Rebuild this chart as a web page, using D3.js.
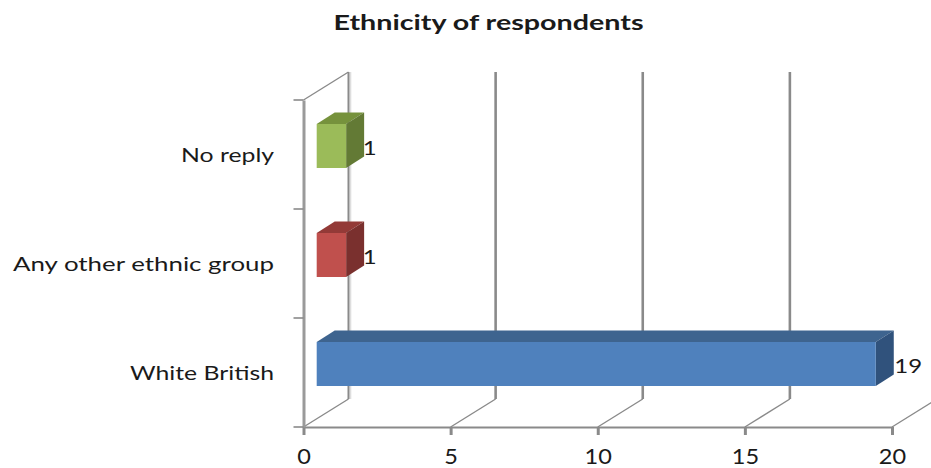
<!DOCTYPE html>
<html>
<head>
<meta charset="utf-8">
<script src="https://cdn.jsdelivr.net/npm/d3@7"></script>
<style>
html,body{margin:0;padding:0;background:#fff}
svg{display:block}
text{font-family:Lato,"DejaVu Sans",sans-serif;fill:#1a1a1a}
</style>
</head>
<body>
<svg id="chart" width="931" height="468"></svg>
<script>
const title = "Ethnicity of respondents";
const categories = ["White British", "Any other ethnic group", "No reply"];
const values = [19, 1, 1];
const xTicks = [0, 5, 10, 15, 20];
const frontColors = ["#4f81bd", "#c0504d", "#9bbb59"];
const topColors = ["#3e648f", "#933a37", "#76923c"];
const sideColors = ["#30527c", "#7a302e", "#637a35"];

const gridColor = "#8a8a8a";
const axisColor = "#9a9a9a";
const plot = {left: 303.5, right: 892, top: 100, bottom: 427};
const wall = {dx: 45, dy: -28};          // floor depth of the 3D box
const bar = {inset: 13.2, lift: 8.5, height: 44, dx: 18, dy: -11.5};
const categoryLabelWidths = [144, 261, 93];

const svg = d3.select("#chart");
const x = d3.scaleLinear().domain([0, 20]).range([plot.left, plot.right]);
const y = d3.scaleBand().domain(categories).range([plot.bottom, plot.top]);

// widen a text selection horizontally by a constant factor
const stretch = (sel, k) => sel.each(function () {
  this.setAttribute("textLength", this.getComputedTextLength() * k);
  this.setAttribute("lengthAdjust", "spacingAndGlyphs");
});

// back wall gridlines and the floor diagonals leading up to them
const grid = svg.append("g").attr("fill", "none").attr("stroke", gridColor);
grid.append("line")
  .attr("x1", x(0) + wall.dx + 2).attr("x2", x(0) + wall.dx + 2)
  .attr("y1", plot.top + wall.dy).attr("y2", plot.bottom + wall.dy)
  .attr("stroke", "#dedede").attr("stroke-width", 1.6);
grid.selectAll("line.wall").data(xTicks.slice(0, -1)).join("line")
  .attr("class", "wall")
  .attr("x1", d => x(d) + wall.dx).attr("x2", d => x(d) + wall.dx)
  .attr("y1", plot.top + wall.dy).attr("y2", plot.bottom + wall.dy)
  .attr("stroke-width", (d, i) => i === 0 ? 2 : 2.6);
grid.selectAll("line.floor").data(xTicks).join("line")
  .attr("class", "floor")
  .attr("x1", d => x(d)).attr("y1", plot.bottom)
  .attr("x2", d => x(d) + wall.dx).attr("y2", plot.bottom + wall.dy)
  .attr("stroke-width", 1.4);
grid.append("line")
  .attr("x1", plot.left).attr("y1", plot.top)
  .attr("x2", plot.left + wall.dx).attr("y2", plot.top + wall.dy)
  .attr("stroke-width", 1.4);

// cuboid bars: top and side faces sit behind the front face
const bars = svg.append("g").selectAll("g").data(categories).join("g");
const x0 = plot.left + bar.inset;
const len = i => x(values[i]) - x(0);
const frontTop = c => y(c) + y.bandwidth() / 2 - bar.lift - bar.height / 2;

bars.append("path")
  .attr("fill", (c, i) => topColors[i])
  .attr("d", (c, i) => {
    const t = frontTop(c), r = x0 + len(i);
    return d3.line()([[x0, t], [x0 + bar.dx, t + bar.dy], [r + bar.dx, t + bar.dy], [r, t]]) + "Z";
  });
bars.append("path")
  .attr("fill", (c, i) => sideColors[i])
  .attr("d", (c, i) => {
    const t = frontTop(c), r = x0 + len(i);
    return d3.line()([[r, t], [r + bar.dx, t + bar.dy], [r + bar.dx, t + bar.dy + bar.height], [r, t + bar.height]]) + "Z";
  });
bars.append("rect")
  .attr("fill", (c, i) => frontColors[i])
  .attr("x", x0).attr("y", c => frontTop(c))
  .attr("width", (c, i) => len(i)).attr("height", bar.height);

// value labels beside each bar's side face
bars.append("text")
  .attr("x", (c, i) => x0 + len(i) + bar.dx - (values[i] < 10 ? 1.5 : -0.5))
  .attr("y", c => frontTop(c) + 31)
  .attr("font-size", 20)
  .text((c, i) => values[i])
  .call(stretch, 1.2);

// axes
const xAxis = svg.append("g")
  .attr("transform", `translate(0,${plot.bottom})`)
  .call(d3.axisBottom(x).tickValues(xTicks).tickSize(8));
const yAxis = svg.append("g")
  .attr("transform", `translate(${plot.left},0)`)
  .call(d3.axisLeft(y).tickSize(0));

svg.append("g").attr("stroke", gridColor).attr("stroke-width", 1.6)
  .selectAll("line").data(d3.range(categories.length + 1)).join("line")
  .attr("x1", plot.left - 10).attr("x2", plot.left)
  .attr("y1", d => plot.bottom - d * y.step())
  .attr("y2", d => plot.bottom - d * y.step());

xAxis.select(".domain").attr("stroke", gridColor).attr("stroke-width", 2);
yAxis.select(".domain").attr("stroke", axisColor).attr("stroke-width", 3);
xAxis.selectAll(".tick line").attr("stroke", gridColor).attr("stroke-width", 3);

xAxis.selectAll(".tick text")
  .attr("font-size", 21).attr("fill", "#1a1a1a").attr("dy", null).attr("y", 37)
  .style("font-family", "Lato,sans-serif")
  .call(stretch, 1.12);
yAxis.selectAll(".tick text")
  .attr("font-size", 19).attr("fill", "#1a1a1a").attr("dy", null).attr("y", 7.5).attr("x", -29.5)
  .style("font-family", "Lato,sans-serif")
  .attr("lengthAdjust", "spacingAndGlyphs")
  .attr("textLength", (c, i) => categoryLabelWidths[i]);

svg.append("text")
  .attr("x", 488.5).attr("y", 30)
  .attr("text-anchor", "middle")
  .attr("font-size", 21).attr("font-weight", 700)
  .text(title)
  .call(stretch, 1.365);
</script>
</body>
</html>
